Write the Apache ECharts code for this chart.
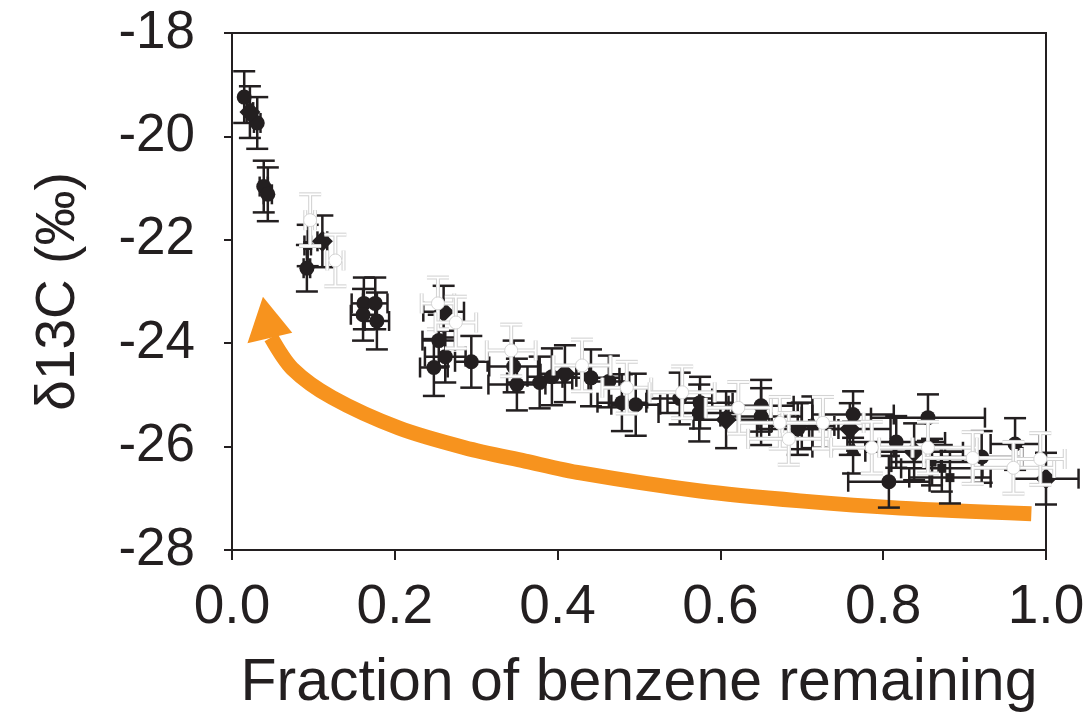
<!DOCTYPE html>
<html><head><meta charset="utf-8">
<script src="https://cdn.jsdelivr.net/npm/echarts@6/dist/echarts.min.js"></script>
<style>html,body{margin:0;padding:0;background:#fff}#c{width:1090px;height:715px}</style>
</head><body><div id="c"></div>
<script>
// [x, y, xerr, yerr]
const circles = [
  [0.015,-19.24,0,0.5],[0.031,-19.74,0.004,0.5],[0.039,-20.97,0.005,0.5],[0.044,-21.12,0.005,0.52],
  [0.092,-22.55,0.004,0.45],
  [0.162,-23.23,0.015,0.5],[0.176,-23.23,0.015,0.5],[0.161,-23.45,0.015,0.5],[0.178,-23.57,0.015,0.55],
  [0.254,-23.95,0.02,0.5],[0.262,-24.26,0.025,0.5],[0.248,-24.47,0.017,0.55],[0.294,-24.36,0.02,0.5],
  [0.346,-24.45,0.03,0.5],[0.350,-24.80,0.035,0.5],[0.378,-24.76,0.04,0.5],[0.393,-24.65,0.03,0.55],
  [0.441,-24.67,0.035,0.55],[0.463,-24.74,0.025,0.5],[0.479,-25.15,0.03,0.55],[0.496,-25.19,0.03,0.6],
  [0.550,-25.07,0.04,0.5],[0.575,-25.15,0.04,0.5],[0.574,-25.35,0.05,0.55],
  [0.650,-25.21,0.04,0.5],[0.650,-25.42,0.05,0.55],[0.695,-25.66,0.05,0.5],
  [0.763,-25.38,0.05,0.45],[0.816,-25.91,0.06,0.5],[0.807,-26.68,0.05,0.5],
  [0.855,-25.44,0.07,0.45],[0.921,-26.20,0.05,0.5],[0.962,-25.95,0.03,0.5]
];
const diamonds = [
  [0.022,-19.53,0.004,0.5],[0.111,-22.03,0.006,0.5],[0.260,-23.39,0.025,0.5],[0.409,-24.59,0.03,0.55],
  [0.607,-25.48,0.04,0.55],[0.759,-25.66,0.05,0.5],[0.838,-26.10,0.06,0.55],[1.000,-26.62,0.04,0.5]
];
const triangles = [
  [0.713,-25.53,0.05,0.5],[0.763,-26.02,0.05,0.5]
];
const squares = [
  [0.093,-22.11,0.004,0.4],[0.860,-26.30,0.05,0.45],[0.872,-26.42,0.05,0.45],[0.882,-26.60,0.05,0.5],[0.700,-25.60,0.04,0.45]
];
const whitePts = [
  [0.096,-21.62,0.006,0.5],[0.127,-22.40,0.01,0.5],[0.253,-23.23,0.02,0.5],[0.275,-23.60,0.025,0.5],
  [0.343,-24.14,0.03,0.5],[0.430,-24.43,0.035,0.5],[0.485,-24.86,0.03,0.5],[0.553,-24.95,0.04,0.5],
  [0.622,-25.25,0.04,0.5],[0.673,-25.54,0.05,0.5],[0.684,-25.85,0.05,0.5],[0.726,-25.54,0.05,0.5],
  [0.786,-26.02,0.05,0.5],[0.855,-26.02,0.06,0.5],[0.910,-26.22,0.06,0.5],[0.960,-26.41,0.05,0.5],[0.993,-26.24,0.03,0.5]
];
// arrow annotation path (data units), from arrowhead base to tail
const arrowPath = [
  [0.048,-23.89],[0.074,-24.49],[0.123,-25.05],[0.205,-25.64],[0.286,-26.02],[0.360,-26.28],
  [0.428,-26.51],[0.575,-26.86],[0.698,-27.05],[0.821,-27.19],[0.982,-27.30]
];
const arrowHead = [[0.038,-23.10],[0.019,-24.00],[0.074,-23.80]];
const xTickLabels = ['0.0','0.2','0.4','0.6','0.8','1.0'];

const BLACK = '#231F20';
const ORANGE = '#F7931E';

function errRender(layers) {
  return function (params, api) {
    const x = api.value(0), y = api.value(1), xe = api.value(2), ye = api.value(3);
    const top = api.coord([x, y + ye]), bot = api.coord([x, y - ye]);
    const l = api.coord([x - xe, y]), r = api.coord([x + xe, y]);
    const segs = [
      [top, bot],
      [[top[0] - 11, top[1]], [top[0] + 11, top[1]]],
      [[bot[0] - 11, bot[1]], [bot[0] + 11, bot[1]]]
    ];
    if (r[0] - l[0] > 6) {
      segs.push([l, r], [[l[0], l[1] - 10], [l[0], l[1] + 10]], [[r[0], r[1] - 10], [r[0], r[1] + 10]]);
    }
    const children = [];
    layers.forEach(function (ly) {
      segs.forEach(function (s) {
        children.push({ type: 'line', shape: { x1: s[0][0], y1: s[0][1], x2: s[1][0], y2: s[1][1] },
          style: { stroke: ly.color, lineWidth: ly.width, lineCap: 'butt' } });
      });
    });
    return { type: 'group', children: children };
  };
}
const blackLayers = [{ color: BLACK, width: 2.5 }];
const whiteLayers = [{ color: '#d4d4d4', width: 4 }, { color: '#ffffff', width: 1.8 }];

function errSeries(data, layers, z) {
  return { type: 'custom', data: data, renderItem: errRender(layers), z: z, silent: true,
    encode: { x: 0, y: 1 } };
}
function ptSeries(data, symbol, size, color, z, border) {
  return { type: 'scatter', data: data.map(function (d) { return [d[0], d[1]]; }), symbol: symbol,
    symbolSize: size, z: z, silent: true,
    itemStyle: { color: color, borderColor: border || color, borderWidth: border ? 1 : 0, opacity: 1 } };
}

const chart = echarts.init(document.getElementById('c'));
chart.setOption({
  animation: false,
  backgroundColor: '#fff',
  grid: { left: 232, right: 44, top: 33, bottom: 165, containLabel: false, outerBoundsMode: 'none',
    show: true, borderColor: BLACK, borderWidth: 2 },
  xAxis: {
    type: 'value', min: 0, max: 1, interval: 0.2,
    name: 'Fraction of benzene remaining', nameLocation: 'middle', nameGap: 104,
    nameTextStyle: { fontFamily: "'Liberation Sans Narrow','Liberation Sans',Arial", fontSize: 59, color: BLACK },
    axisLine: { lineStyle: { color: BLACK, width: 2 } },
    axisTick: { inside: false, length: 10, lineStyle: { color: BLACK, width: 2 } },
    axisLabel: { margin: 30, fontFamily: "'Liberation Sans Narrow','Liberation Sans',Arial", fontSize: 55, color: BLACK,
      formatter: function (v) { return xTickLabels[Math.round(v / 0.2)]; } },
    splitLine: { show: false }
  },
  yAxis: {
    type: 'value', min: -28, max: -18, interval: 2,
    name: 'δ13C (‰)', nameLocation: 'middle', nameGap: 146, nameRotate: 90,
    nameTextStyle: { fontFamily: "'Liberation Sans',Arial", fontSize: 55, color: BLACK },
    axisLine: { onZero: false, lineStyle: { color: BLACK, width: 2 } },
    axisTick: { inside: false, length: 8, lineStyle: { color: BLACK, width: 2 } },
    axisLabel: { margin: 37, fontFamily: "'Liberation Sans',Arial", fontSize: 53, color: BLACK },
    splitLine: { show: false }
  },
  series: [
    { type: 'line', data: arrowPath, smooth: 0.3, symbol: 'none', z: 1, silent: true,
      lineStyle: { color: ORANGE, width: 15, cap: 'butt' } },
    { type: 'custom', data: [[arrowHead[0][0], arrowHead[0][1]]], z: 1, silent: true,
      renderItem: function (params, api) {
        const pts = arrowHead.map(function (p) { return api.coord(p); });
        return { type: 'polygon', shape: { points: pts }, style: { fill: ORANGE } };
      } },
    errSeries(circles, blackLayers, 2),
    errSeries(diamonds, blackLayers, 2),
    errSeries(triangles, blackLayers, 2),
    errSeries(squares, blackLayers, 2),
    ptSeries(circles, 'circle', 15, BLACK, 3),
    ptSeries(diamonds, 'diamond', 21, BLACK, 3),
    ptSeries(triangles, 'triangle', 14, BLACK, 3),
    ptSeries(squares, 'rect', 9, BLACK, 3),
    errSeries(whitePts, whiteLayers, 4),
    ptSeries(whitePts, 'circle', 13, '#ffffff', 5, '#d4d4d4')
  ]
});
</script>
</body></html>
